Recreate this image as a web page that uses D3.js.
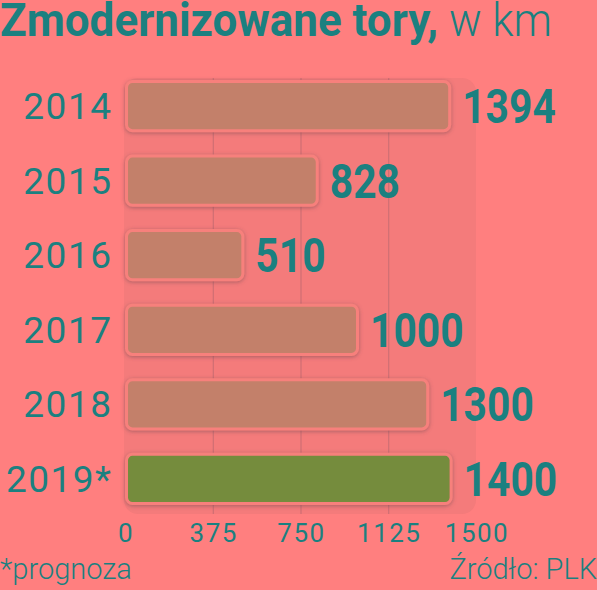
<!DOCTYPE html>
<html>
<head>
<meta charset="utf-8">
<script src="https://cdn.jsdelivr.net/npm/d3@7"></script>
<style>
  html, body { margin: 0; padding: 0; background: #ff7f7f; }
  svg { display: block; }
</style>
</head>
<body>
<div id="chart"></div>
<script>
const years = ["2014", "2015", "2016", "2017", "2018", "2019*"];
const values = [1394, 828, 510, 1000, 1300, 1400];
const ticks = [0, 375, 750, 1125, 1500];
const title = "Zmodernizowane tory,";
const unit = "w km";
const note = "*prognoza";
const source = "Źródło: PLK";

const W = 597, H = 590;
const teal = "#1b8080";

let svg = d3.select("#chart")
    .append("svg")
        .attr("width", W)
        .attr("height", H);

svg.append("rect")
    .attr("width", W).attr("height", H)
    .attr("fill", "#ff7f7f");

let defs = svg.append("defs");
let f = defs.append("filter")
    .attr("id", "shadow")
    .attr("x", "-10%").attr("y", "-30%")
    .attr("width", "120%").attr("height", "160%");
f.append("feDropShadow")
    .attr("dx", 0).attr("dy", 1)
    .attr("stdDeviation", 2)
    .attr("flood-color", "#6a4a50")
    .attr("flood-opacity", 0.55);

let x = d3.scaleLinear()
    .domain([0, 1500])
    .range([125, 476]);

let y = d3.scaleBand()
    .domain(years)
    .range([80, 505])
    .paddingInner(0.3)
    .paddingOuter(0);

// background panel
svg.append("rect")
    .attr("x", x(0) - 1)
    .attr("y", 78)
    .attr("width", x(1500) - x(0) + 1)
    .attr("height", 436)
    .attr("rx", 14)
    .attr("fill", "#f47b7b");

// gridlines
svg.append("g")
    .selectAll("line")
    .data(ticks.slice(1, -1))
    .enter()
    .append("line")
        .attr("x1", d => x(d) + 0.5)
        .attr("x2", d => x(d) + 0.5)
        .attr("y1", 78)
        .attr("y2", 514)
        .attr("stroke", "#c86c72")
        .attr("stroke-width", 1);

// bars
svg.append("g")
    .selectAll("rect")
    .data(values)
    .enter()
    .append("rect")
        .attr("x", x(0) + 1.5)
        .attr("y", (d, i) => y(years[i]) + 1.5)
        .attr("width", d => x(d) - x(0) - 3)
        .attr("height", y.bandwidth() - 3)
        .attr("rx", 6)
        .attr("fill", (d, i) => i === years.length - 1 ? "#748c3e" : "#c3806a")
        .attr("stroke", "#f7807c")
        .attr("stroke-width", 3)
        .attr("filter", "url(#shadow)");

// value labels
svg.append("g")
    .selectAll("text")
    .data(values)
    .enter()
    .append("text")
        .attr("x", d => x(d) + 11)
        .attr("y", (d, i) => y(years[i]) + y.bandwidth() / 2 + 17)
        .attr("font-family", "Roboto")
        .attr("font-weight", 700)
        .attr("font-size", 49)
        .attr("fill", teal)
        .attr("textLength", d => String(d).length * 23.4)
        .attr("lengthAdjust", "spacingAndGlyphs")
        .text(d => d);

// year labels
svg.append("g")
    .selectAll("text")
    .data(years)
    .enter()
    .append("text")
        .attr("x", 112.5)
        .attr("y", d => y(d) + y.bandwidth() / 2 + 13)
        .attr("text-anchor", "end")
        .attr("font-family", "Roboto")
        .attr("font-size", 37)
        .attr("letter-spacing", 1.5)
        .attr("fill", teal)
        .text(d => d);

// x axis labels
svg.append("g")
    .selectAll("text")
    .data(ticks)
    .enter()
    .append("text")
        .attr("x", d => x(d) + 1)
        .attr("y", 542)
        .attr("text-anchor", "middle")
        .attr("font-family", "Roboto")
        .attr("font-size", 26)
        .attr("letter-spacing", 1.5)
        .attr("fill", teal)
        .text(d => d);

// title
svg.append("text")
    .attr("x", 0)
    .attr("y", 36)
    .attr("font-family", "Roboto")
    .attr("font-weight", 700)
    .attr("font-size", 46)
    .attr("fill", teal)
    .attr("textLength", 438)
    .attr("lengthAdjust", "spacingAndGlyphs")
    .text(title);

svg.append("text")
    .attr("x", 449)
    .attr("y", 36)
    .attr("font-family", "Roboto")
    .attr("font-weight", 300)
    .attr("font-size", 46)
    .attr("fill", teal)
    .attr("textLength", 103)
    .attr("lengthAdjust", "spacingAndGlyphs")
    .text(unit);

// footer
svg.append("text")
    .attr("x", 0)
    .attr("y", 579)
    .attr("font-family", "Roboto")
    .attr("font-weight", 300)
    .attr("font-size", 29)
    .attr("fill", teal)
    .text(note);

svg.append("text")
    .attr("x", W)
    .attr("y", 579)
    .attr("text-anchor", "end")
    .attr("font-family", "Roboto")
    .attr("font-weight", 300)
    .attr("font-size", 29)
    .attr("fill", teal)
    .text(source);
</script>
</body>
</html>
